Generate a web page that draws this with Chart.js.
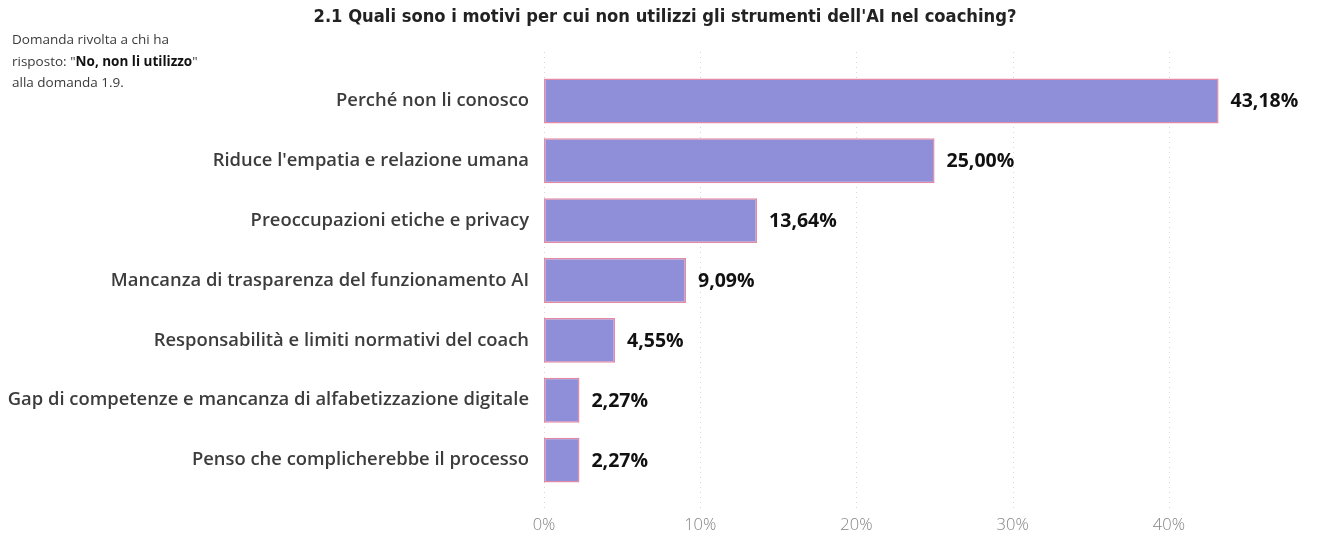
<!DOCTYPE html>
<html lang="it">
<head>
<meta charset="utf-8">
<title>Motivi per cui non si utilizzano gli strumenti dell'AI nel coaching</title>
<script src="https://cdn.jsdelivr.net/npm/chart.js@4/dist/chart.umd.min.js"></script>
<style>
  html, body { margin: 0; padding: 0; background: #ffffff; }
  #wrap { position: relative; width: 1317px; height: 537px; overflow: hidden; }
  #chart { position: absolute; left: 0; top: 0; }
  #title {
    position: absolute; left: 0; width: 1330px; top: 5px; text-align: center;
    font-family: "Liberation Sans Narrow", "DejaVu Sans Condensed", sans-serif;
    font-weight: bold; font-size: 18.2px; color: #222222;
  }
  #note {
    position: absolute; left: 12px; top: 29px;
    font-family: "Open Sans", sans-serif; font-size: 13.5px; line-height: 21.5px; color: #3a3a3a;
  }
  #note b { color: #111111; }
</style>
</head>
<body>
<div id="wrap">
  <canvas id="chart" width="1317" height="537"></canvas>
  <div id="title">2.1 Quali sono i motivi per cui non utilizzi gli strumenti dell'AI nel coaching?</div>
  <div id="note">Domanda rivolta a chi ha<br>risposto: "<b>No, non li utilizzo</b>"<br>alla domanda 1.9.</div>
</div>
<script>
// Reasons for not using AI tools (share of respondents, %)
const categories = [
  "Perché non li conosco",
  "Riduce l'empatia e relazione umana",
  "Preoccupazioni etiche e privacy",
  "Mancanza di trasparenza del funzionamento AI",
  "Responsabilità e limiti normativi del coach",
  "Gap di competenze e mancanza di alfabetizzazione digitale",
  "Penso che complicherebbe il processo"
];
const percentages = [43.18, 25.00, 13.64, 9.09, 4.55, 2.27, 2.27];
const axisTicks = [0, 10, 20, 30, 40];

const fmt = v => v.toFixed(2).replace('.', ',') + '%';

// Dotted vertical gridlines, running a little above and below the plot area
const dottedGrid = {
  id: 'dottedGrid',
  beforeDatasetsDraw(chart) {
    const { ctx, scales: { x } } = chart;
    ctx.save();
    ctx.strokeStyle = '#d6d6d6';
    ctx.lineWidth = 1;
    ctx.setLineDash([1, 4]);
    axisTicks.forEach(t => {
      const px = Math.round(x.getPixelForValue(t)) + 0.5;
      ctx.beginPath();
      ctx.moveTo(px, 52);
      ctx.lineTo(px, 512);
      ctx.stroke();
    });
    ctx.restore();
  }
};

// Value labels to the right of each bar
const valueLabels = {
  id: 'valueLabels',
  afterDatasetsDraw(chart) {
    const { ctx } = chart;
    const meta = chart.getDatasetMeta(0);
    ctx.save();
    ctx.font = 'bold 19.5px "Open Sans", sans-serif';
    ctx.fillStyle = '#111111';
    ctx.textAlign = 'left';
    ctx.textBaseline = 'middle';
    meta.data.forEach((bar, i) => {
      ctx.fillText(fmt(percentages[i]), bar.x + 12, bar.y + 1);
    });
    ctx.restore();
  }
};

new Chart(document.getElementById('chart'), {
  type: 'bar',
  data: {
    labels: categories,
    datasets: [{
      data: percentages,
      backgroundColor: '#8f8fd9',
      borderColor: '#e48aa6',
      borderWidth: 1.5,
      borderSkipped: false,
      barPercentage: 0.75,
      categoryPercentage: 1.0
    }]
  },
  options: {
    indexAxis: 'y',
    responsive: false,
    animation: false,
    layout: { padding: { top: 71, right: 70, left: 0, bottom: 0 } },
    plugins: { legend: { display: false }, tooltip: { enabled: false } },
    scales: {
      x: {
        min: 0, max: 45,
        afterBuildTicks(scale) { scale.ticks = axisTicks.map(v => ({ value: v })); },
        afterFit(scale) { scale.height = 47; },
        grid: { display: false, drawTicks: false },
        border: { display: false },
        ticks: {
          padding: 25,
          color: '#858585',
          font: { family: '"Open Sans", sans-serif', size: 16.5, weight: '300' },
          callback: v => v + '%'
        }
      },
      y: {
        afterFit(scale) { scale.width = 544; },
        grid: { display: false, drawTicks: false },
        border: { display: false },
        ticks: {
          padding: 15,
          color: '#3c3c3c',
          font: { family: '"Open Sans", sans-serif', size: 18.4, weight: '600' }
        }
      }
    }
  },
  plugins: [dottedGrid, valueLabels]
});
</script>
</body>
</html>
